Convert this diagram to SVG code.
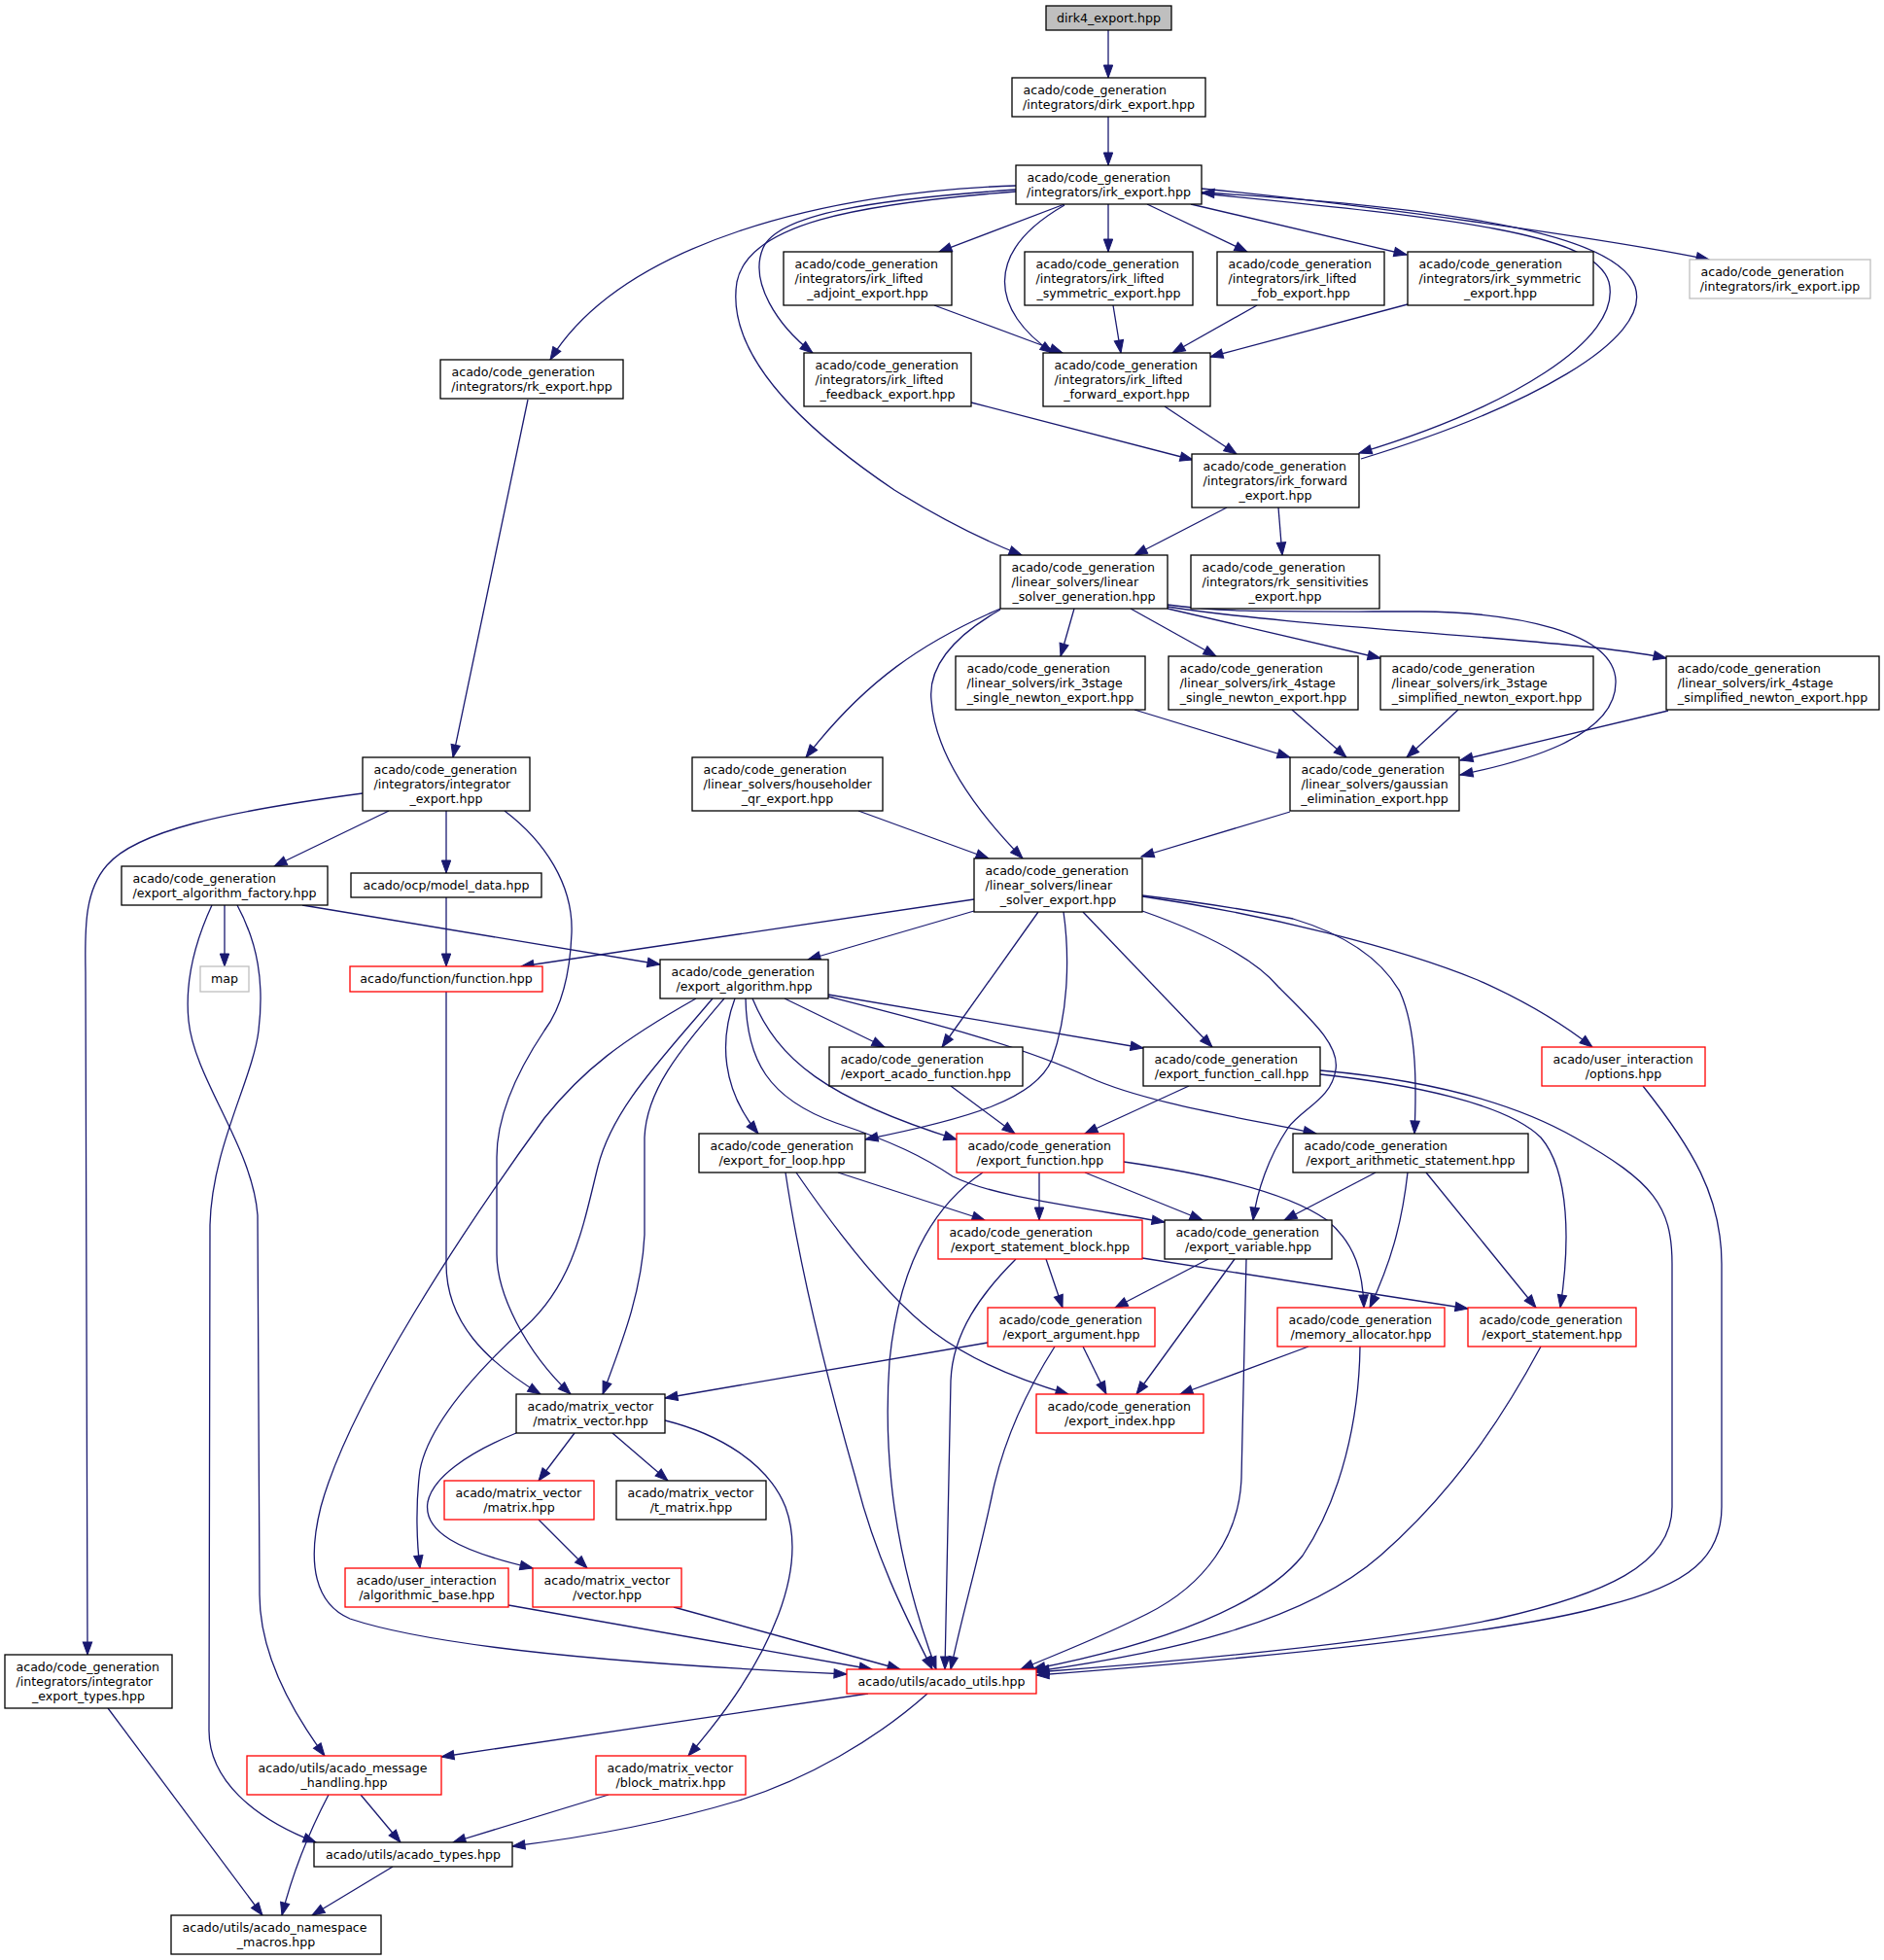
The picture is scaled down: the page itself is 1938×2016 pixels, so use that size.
<svg xmlns="http://www.w3.org/2000/svg" width="1938" height="2016" viewBox="0 0 1938 2016">
<style>
rect{fill:#fff;stroke:#000;stroke-width:1.3}
.r rect{stroke:#ff0000}
.g rect{stroke:#bfbfbf}
.root rect{fill:#bfbfbf}
text{font-family:"DejaVu Sans","Liberation Sans",sans-serif;font-size:12.6px;fill:#000}
.c{text-anchor:middle}
#edges path{fill:none;stroke:#191970;stroke-width:1.3;marker-end:url(#a)}
</style>
<defs>
<marker id="a" markerUnits="userSpaceOnUse" markerWidth="14" markerHeight="11" viewBox="0 0 14 11" refX="13" refY="5.5" orient="auto" overflow="visible">
<path d="M0,0.8 L13,5.5 L0,10.2 z" fill="#191970" stroke="#191970" stroke-width="1"/>
</marker>
</defs>
<rect x="0" y="0" width="1938" height="2016" style="fill:#fff;stroke:none"/>
<g id="edges">
<path d="M1140,31 L1140,80"/>
<path d="M1140,120 L1140,170"/>
<path d="M1045,191 C850,197 640,250 566,370"/>
<path d="M1095,210 L966,259"/>
<path d="M1095,211 C1010,260 1020,320 1083,363"/>
<path d="M1140,210 L1140,259"/>
<path d="M1180,210 L1283,259"/>
<path d="M1225,210 L1447,262"/>
<path d="M1236,194 C1400,210 1650,245 1758,267"/>
<path d="M1045,195 C900,205 800,220 785,255 C770,290 800,335 836,363"/>
<path d="M1045,197 C880,210 770,230 758,290 C745,370 840,450 920,504 C970,535 1010,555 1051,571"/>
<path d="M1236,199 C1500,225 1640,240 1655,290 C1670,350 1550,420 1398,466"/>
<path d="M1400,472 C1570,420 1700,350 1682,295 C1665,245 1520,215 1236,198"/>
<path d="M961,314 L1093,363"/>
<path d="M1145,314 L1153,363"/>
<path d="M1293,314 L1206,363"/>
<path d="M1448,313 L1245,367"/>
<path d="M999,414 L1227,473"/>
<path d="M1198,418 L1272,467"/>
<path d="M1262,522 L1167,571"/>
<path d="M1315,522 L1319,571"/>
<path d="M543,411 L466,779"/>
<path d="M1029,626 C950,660 890,700 829,779"/>
<path d="M1029,627 C975,658 955,690 958,720 C962,780 1010,840 1052,883"/>
<path d="M1105,626 L1091,675"/>
<path d="M1163,626 L1251,675"/>
<path d="M1201,626 L1420,677"/>
<path d="M1201,624 C1300,640 1500,652 1620,664 C1660,668 1690,672 1714,677"/>
<path d="M1201,622 C1260,630 1300,629 1460,629 C1560,630 1660,650 1662,700 C1664,760 1560,785 1502,797"/>
<path d="M1167,730 L1327,779"/>
<path d="M1329,730 L1385,779"/>
<path d="M1500,730 L1447,779"/>
<path d="M1716,731 L1502,782"/>
<path d="M883,834 L1017,883"/>
<path d="M1327,835 L1174,881"/>
<path d="M400,834 L282,891"/>
<path d="M459,834 L459,898"/>
<path d="M373,816 C230,835 140,855 110,890 C88,915 87,950 88,1000 L90,1702"/>
<path d="M519,834 C560,865 590,910 588,960 C586,1010 575,1040 560,1060 C540,1090 511,1140 511,1190 L511,1290 C511,1330 540,1390 587,1434"/>
<path d="M231,931 L231,994"/>
<path d="M311,931 L679,992"/>
<path d="M218,931 C200,970 190,1010 194,1050 C200,1110 260,1180 265,1250 L267,1640 C267,1700 300,1760 334,1806"/>
<path d="M244,931 C265,970 272,1010 266,1060 C260,1110 218,1180 216,1260 L215,1780 C215,1830 260,1870 325,1895"/>
<path d="M459,923 L459,994"/>
<path d="M459,1020 L459,1300 C459,1360 500,1400 556,1434"/>
<path d="M1002,925 L536,994"/>
<path d="M1002,937 L831,987"/>
<path d="M1068,938 L969,1077"/>
<path d="M1114,938 L1247,1077"/>
<path d="M1094,938 C1100,980 1100,1040 1082,1090 C1065,1130 1000,1150 890,1172"/>
<path d="M1175,937 C1240,960 1290,985 1315,1015 C1350,1050 1378,1075 1374,1100 C1370,1130 1340,1140 1325,1160 C1305,1190 1293,1225 1289,1255"/>
<path d="M1175,921 C1250,930 1290,937 1330,945 C1380,960 1420,985 1440,1020 C1458,1060 1457,1120 1455,1166"/>
<path d="M1175,922 C1300,940 1440,975 1520,1008 C1570,1030 1610,1055 1638,1077"/>
<path d="M807,1027 L910,1077"/>
<path d="M852,1023 L1176,1078"/>
<path d="M756,1027 C740,1070 742,1120 780,1166"/>
<path d="M774,1027 C800,1090 850,1130 984,1172"/>
<path d="M767,1027 C768,1090 790,1130 860,1155 C920,1175 950,1190 980,1210 C1020,1230 1100,1240 1198,1257"/>
<path d="M852,1025 C950,1050 1050,1075 1120,1108 C1180,1135 1280,1150 1354,1166"/>
<path d="M745,1027 C700,1080 665,1120 663,1170 L663,1270 C660,1330 640,1380 620,1434"/>
<path d="M716,1027 C640,1070 600,1100 560,1150 C480,1260 360,1440 330,1550 C315,1610 325,1650 360,1665 C450,1695 650,1712 871,1722"/>
<path d="M733,1027 C680,1090 630,1140 615,1200 C600,1260 590,1320 540,1365 C480,1420 440,1470 432,1512 C427,1550 429,1590 432,1613"/>
<path d="M978,1117 L1044,1166"/>
<path d="M1223,1117 L1116,1166"/>
<path d="M1358,1105 C1450,1115 1550,1135 1585,1170 C1615,1205 1615,1280 1605,1345"/>
<path d="M1358,1101 C1460,1110 1550,1130 1620,1170 C1700,1215 1720,1240 1720,1300 L1720,1550 C1720,1610 1650,1640 1540,1665 C1420,1690 1200,1710 1066,1720"/>
<path d="M862,1206 L1013,1255"/>
<path d="M819,1206 C870,1280 920,1340 960,1370 C1000,1400 1050,1420 1099,1434"/>
<path d="M808,1206 C825,1320 860,1450 880,1520 C900,1600 930,1660 959,1717"/>
<path d="M1069,1206 L1069,1255"/>
<path d="M1116,1206 L1237,1255"/>
<path d="M1156,1195 C1260,1210 1330,1230 1365,1255 C1395,1280 1402,1310 1403,1345"/>
<path d="M1011,1206 C960,1240 925,1300 915,1400 C908,1500 920,1600 963,1717"/>
<path d="M1415,1206 L1321,1255"/>
<path d="M1448,1206 C1442,1260 1430,1300 1409,1345"/>
<path d="M1467,1206 L1580,1345"/>
<path d="M1076,1295 L1093,1345"/>
<path d="M1175,1294 L1510,1346"/>
<path d="M1045,1295 C1010,1330 980,1370 978,1420 L972,1717"/>
<path d="M1243,1295 L1147,1345"/>
<path d="M1270,1295 L1169,1434"/>
<path d="M1282,1295 L1277,1520 C1275,1580 1240,1630 1180,1660 C1130,1685 1090,1700 1050,1717"/>
<path d="M1016,1381 L684,1438"/>
<path d="M1114,1385 L1138,1434"/>
<path d="M1085,1385 C1050,1440 1030,1490 1020,1540 C1005,1610 990,1660 978,1717"/>
<path d="M1346,1385 L1214,1434"/>
<path d="M1399,1385 C1398,1460 1380,1540 1340,1600 C1300,1650 1200,1690 1062,1717"/>
<path d="M1585,1385 C1550,1450 1500,1530 1420,1600 C1340,1670 1200,1700 1066,1719"/>
<path d="M1690,1117 C1740,1180 1771,1230 1771,1300 L1771,1550 C1771,1600 1740,1630 1650,1652 C1550,1680 1300,1705 1066,1723"/>
<path d="M591,1474 L554,1523"/>
<path d="M630,1474 L687,1523"/>
<path d="M531,1474 C480,1495 445,1520 440,1545 C435,1575 470,1595 548,1613"/>
<path d="M684,1461 C740,1475 790,1505 808,1550 C830,1610 800,1700 708,1806"/>
<path d="M554,1563 L604,1613"/>
<path d="M523,1651 L897,1717"/>
<path d="M693,1653 L926,1717"/>
<path d="M893,1742 L454,1807"/>
<path d="M954,1742 C900,1790 830,1830 760,1852 C680,1876 600,1890 527,1899"/>
<path d="M111,1757 L270,1970"/>
<path d="M371,1846 L412,1895"/>
<path d="M338,1846 C315,1890 300,1930 290,1970"/>
<path d="M626,1846 L466,1895"/>
<path d="M404,1920 L321,1970"/>
</g>
<g id="n0" class="root"><rect x="1076" y="6" width="129" height="25"/><text class="c" x="1140.5" y="22.8">dirk4_export.hpp</text></g>
<g id="n1"><rect x="1041" y="80" width="199" height="40"/><text x="1052.5" y="96.8">acado/code_generation</text><text class="c" x="1140.5" y="111.8">/integrators/dirk_export.hpp</text></g>
<g id="n2"><rect x="1045" y="170" width="191" height="40"/><text x="1056.5" y="186.8">acado/code_generation</text><text class="c" x="1140.5" y="201.8">/integrators/irk_export.hpp</text></g>
<g id="n3"><rect x="806" y="259" width="173" height="55"/><text x="817.5" y="275.8">acado/code_generation</text><text x="817.5" y="290.8">/integrators/irk_lifted</text><text class="c" x="892.5" y="305.8">_adjoint_export.hpp</text></g>
<g id="n4"><rect x="1054" y="259" width="173" height="55"/><text x="1065.5" y="275.8">acado/code_generation</text><text x="1065.5" y="290.8">/integrators/irk_lifted</text><text class="c" x="1140.5" y="305.8">_symmetric_export.hpp</text></g>
<g id="n5"><rect x="1252" y="259" width="172" height="55"/><text x="1263.5" y="275.8">acado/code_generation</text><text x="1263.5" y="290.8">/integrators/irk_lifted</text><text class="c" x="1338" y="305.8">_fob_export.hpp</text></g>
<g id="n6"><rect x="1448" y="259" width="191" height="55"/><text x="1459.5" y="275.8">acado/code_generation</text><text x="1459.5" y="290.8">/integrators/irk_symmetric</text><text class="c" x="1543.5" y="305.8">_export.hpp</text></g>
<g id="n7" class="g"><rect x="1738" y="267" width="186" height="40"/><text x="1749.5" y="283.8">acado/code_generation</text><text class="c" x="1831" y="298.8">/integrators/irk_export.ipp</text></g>
<g id="n8"><rect x="453" y="370" width="188" height="40"/><text x="464.5" y="386.8">acado/code_generation</text><text class="c" x="547" y="401.8">/integrators/rk_export.hpp</text></g>
<g id="n9"><rect x="827" y="363" width="172" height="55"/><text x="838.5" y="379.8">acado/code_generation</text><text x="838.5" y="394.8">/integrators/irk_lifted</text><text class="c" x="913" y="409.8">_feedback_export.hpp</text></g>
<g id="n10"><rect x="1073" y="363" width="172" height="55"/><text x="1084.5" y="379.8">acado/code_generation</text><text x="1084.5" y="394.8">/integrators/irk_lifted</text><text class="c" x="1159" y="409.8">_forward_export.hpp</text></g>
<g id="n11"><rect x="1226" y="467" width="172" height="55"/><text x="1237.5" y="483.8">acado/code_generation</text><text x="1237.5" y="498.8">/integrators/irk_forward</text><text class="c" x="1312" y="513.8">_export.hpp</text></g>
<g id="n12"><rect x="1029" y="571" width="172" height="55"/><text x="1040.5" y="587.8">acado/code_generation</text><text x="1040.5" y="602.8">/linear_solvers/linear</text><text class="c" x="1115" y="617.8">_solver_generation.hpp</text></g>
<g id="n13"><rect x="1225" y="571" width="194" height="55"/><text x="1236.5" y="587.8">acado/code_generation</text><text x="1236.5" y="602.8">/integrators/rk_sensitivities</text><text class="c" x="1322" y="617.8">_export.hpp</text></g>
<g id="n14"><rect x="983" y="675" width="195" height="55"/><text x="994.5" y="691.8">acado/code_generation</text><text x="994.5" y="706.8">/linear_solvers/irk_3stage</text><text class="c" x="1080.5" y="721.8">_single_newton_export.hpp</text></g>
<g id="n15"><rect x="1202" y="675" width="195" height="55"/><text x="1213.5" y="691.8">acado/code_generation</text><text x="1213.5" y="706.8">/linear_solvers/irk_4stage</text><text class="c" x="1299.5" y="721.8">_single_newton_export.hpp</text></g>
<g id="n16"><rect x="1420" y="675" width="219" height="55"/><text x="1431.5" y="691.8">acado/code_generation</text><text x="1431.5" y="706.8">/linear_solvers/irk_3stage</text><text class="c" x="1529.5" y="721.8">_simplified_newton_export.hpp</text></g>
<g id="n17"><rect x="1714" y="675" width="219" height="55"/><text x="1725.5" y="691.8">acado/code_generation</text><text x="1725.5" y="706.8">/linear_solvers/irk_4stage</text><text class="c" x="1823.5" y="721.8">_simplified_newton_export.hpp</text></g>
<g id="n18"><rect x="373" y="779" width="172" height="55"/><text x="384.5" y="795.8">acado/code_generation</text><text x="384.5" y="810.8">/integrators/integrator</text><text class="c" x="459" y="825.8">_export.hpp</text></g>
<g id="n19"><rect x="712" y="779" width="196" height="55"/><text x="723.5" y="795.8">acado/code_generation</text><text x="723.5" y="810.8">/linear_solvers/householder</text><text class="c" x="810" y="825.8">_qr_export.hpp</text></g>
<g id="n20"><rect x="1327" y="779" width="174" height="55"/><text x="1338.5" y="795.8">acado/code_generation</text><text x="1338.5" y="810.8">/linear_solvers/gaussian</text><text class="c" x="1414" y="825.8">_elimination_export.hpp</text></g>
<g id="n21"><rect x="1002" y="883" width="173" height="55"/><text x="1013.5" y="899.8">acado/code_generation</text><text x="1013.5" y="914.8">/linear_solvers/linear</text><text class="c" x="1088.5" y="929.8">_solver_export.hpp</text></g>
<g id="n22"><rect x="125" y="891" width="212" height="40"/><text x="136.5" y="907.8">acado/code_generation</text><text class="c" x="231" y="922.8">/export_algorithm_factory.hpp</text></g>
<g id="n23"><rect x="361" y="898" width="196" height="25"/><text class="c" x="459" y="914.8">acado/ocp/model_data.hpp</text></g>
<g id="n24" class="g"><rect x="206" y="994" width="50" height="26"/><text class="c" x="231" y="1010.8">map</text></g>
<g id="n25" class="r"><rect x="360" y="994" width="198" height="26"/><text class="c" x="459" y="1010.8">acado/function/function.hpp</text></g>
<g id="n26"><rect x="679" y="987" width="173" height="40"/><text x="690.5" y="1003.8">acado/code_generation</text><text class="c" x="765.5" y="1018.8">/export_algorithm.hpp</text></g>
<g id="n27"><rect x="853" y="1077" width="199" height="40"/><text x="864.5" y="1093.8">acado/code_generation</text><text class="c" x="952.5" y="1108.8">/export_acado_function.hpp</text></g>
<g id="n28"><rect x="1176" y="1077" width="182" height="40"/><text x="1187.5" y="1093.8">acado/code_generation</text><text class="c" x="1267" y="1108.8">/export_function_call.hpp</text></g>
<g id="n29" class="r"><rect x="1586" y="1077" width="168" height="40"/><text x="1597.5" y="1093.8">acado/user_interaction</text><text class="c" x="1670" y="1108.8">/options.hpp</text></g>
<g id="n30"><rect x="719" y="1166" width="171" height="40"/><text x="730.5" y="1182.8">acado/code_generation</text><text class="c" x="804.5" y="1197.8">/export_for_loop.hpp</text></g>
<g id="n31" class="r"><rect x="984" y="1166" width="172" height="40"/><text x="995.5" y="1182.8">acado/code_generation</text><text class="c" x="1070" y="1197.8">/export_function.hpp</text></g>
<g id="n32"><rect x="1330" y="1166" width="242" height="40"/><text x="1341.5" y="1182.8">acado/code_generation</text><text class="c" x="1451" y="1197.8">/export_arithmetic_statement.hpp</text></g>
<g id="n33" class="r"><rect x="965" y="1255" width="210" height="40"/><text x="976.5" y="1271.8">acado/code_generation</text><text class="c" x="1070" y="1286.8">/export_statement_block.hpp</text></g>
<g id="n34"><rect x="1198" y="1255" width="172" height="40"/><text x="1209.5" y="1271.8">acado/code_generation</text><text class="c" x="1284" y="1286.8">/export_variable.hpp</text></g>
<g id="n35" class="r"><rect x="1016" y="1345" width="172" height="40"/><text x="1027.5" y="1361.8">acado/code_generation</text><text class="c" x="1102" y="1376.8">/export_argument.hpp</text></g>
<g id="n36" class="r"><rect x="1314" y="1345" width="172" height="40"/><text x="1325.5" y="1361.8">acado/code_generation</text><text class="c" x="1400" y="1376.8">/memory_allocator.hpp</text></g>
<g id="n37" class="r"><rect x="1510" y="1345" width="173" height="40"/><text x="1521.5" y="1361.8">acado/code_generation</text><text class="c" x="1596.5" y="1376.8">/export_statement.hpp</text></g>
<g id="n38"><rect x="531" y="1434" width="153" height="40"/><text x="542.5" y="1450.8">acado/matrix_vector</text><text class="c" x="607.5" y="1465.8">/matrix_vector.hpp</text></g>
<g id="n39" class="r"><rect x="1066" y="1434" width="172" height="40"/><text x="1077.5" y="1450.8">acado/code_generation</text><text class="c" x="1152" y="1465.8">/export_index.hpp</text></g>
<g id="n40" class="r"><rect x="457" y="1523" width="154" height="40"/><text x="468.5" y="1539.8">acado/matrix_vector</text><text class="c" x="534" y="1554.8">/matrix.hpp</text></g>
<g id="n41"><rect x="634" y="1523" width="154" height="40"/><text x="645.5" y="1539.8">acado/matrix_vector</text><text class="c" x="711" y="1554.8">/t_matrix.hpp</text></g>
<g id="n42" class="r"><rect x="355" y="1613" width="168" height="40"/><text x="366.5" y="1629.8">acado/user_interaction</text><text class="c" x="439" y="1644.8">/algorithmic_base.hpp</text></g>
<g id="n43" class="r"><rect x="548" y="1613" width="153" height="40"/><text x="559.5" y="1629.8">acado/matrix_vector</text><text class="c" x="624.5" y="1644.8">/vector.hpp</text></g>
<g id="n44"><rect x="5" y="1702" width="172" height="55"/><text x="16.5" y="1718.8">acado/code_generation</text><text x="16.5" y="1733.8">/integrators/integrator</text><text class="c" x="91" y="1748.8">_export_types.hpp</text></g>
<g id="n45" class="r"><rect x="871" y="1717" width="195" height="25"/><text class="c" x="968.5" y="1733.8">acado/utils/acado_utils.hpp</text></g>
<g id="n46" class="r"><rect x="254" y="1806" width="200" height="40"/><text x="265.5" y="1822.8">acado/utils/acado_message</text><text class="c" x="354" y="1837.8">_handling.hpp</text></g>
<g id="n47" class="r"><rect x="613" y="1806" width="154" height="40"/><text x="624.5" y="1822.8">acado/matrix_vector</text><text class="c" x="690" y="1837.8">/block_matrix.hpp</text></g>
<g id="n48"><rect x="323" y="1895" width="204" height="25"/><text class="c" x="425" y="1911.8">acado/utils/acado_types.hpp</text></g>
<g id="n49"><rect x="176" y="1970" width="216" height="40"/><text x="187.5" y="1986.8">acado/utils/acado_namespace</text><text class="c" x="284" y="2001.8">_macros.hpp</text></g>
</svg>
